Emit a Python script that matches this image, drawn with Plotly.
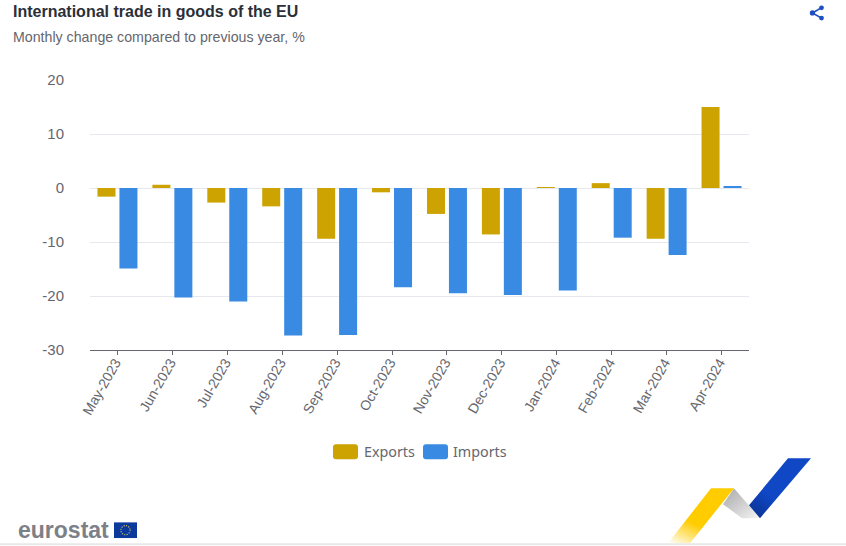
import base64
import plotly.graph_objects as go

months = ["May-2023", "Jun-2023", "Jul-2023", "Aug-2023", "Sep-2023", "Oct-2023",
          "Nov-2023", "Dec-2023", "Jan-2024", "Feb-2024", "Mar-2024", "Apr-2024"]
exports = [-1.6, 0.6, -2.7, -3.4, -9.4, -0.8, -4.8, -8.6, 0.1, 0.9, -9.4, 15.0]
imports = [-14.9, -20.3, -21.0, -27.3, -27.2, -18.4, -19.5, -19.8, -19.0, -9.2, -12.4, 0.3]
y_ticks = [-30, -20, -10, 0, 10, 20]
y_tick_labels = ["-30", "-20", "-10", "0", "10", "20"]

W, H = 846, 546
L, R, T, B = 90, 749, 80, 350.5
PW, PH = R - L, B - T
FONT = "Liberation Sans, Arial, sans-serif"
GOLD, BLUE = "#cca300", "#388ae2"


def svg_uri(svg):
    return "data:image/svg+xml;base64," + base64.b64encode(svg.encode()).decode()


ribbon = """<svg xmlns='http://www.w3.org/2000/svg' width='206' height='106' viewBox='0 0 206 106'>
<defs>
<linearGradient id='y' x1='0' y1='1' x2='0.45' y2='0.2'><stop offset='0' stop-color='#ffffff'/><stop offset='0.55' stop-color='#ffcc00'/></linearGradient>
<linearGradient id='g' x1='0' y1='0' x2='1' y2='1'><stop offset='0' stop-color='#a8a8aa'/><stop offset='1' stop-color='#f4f4f4'/></linearGradient>
<linearGradient id='b' x1='0' y1='1' x2='0.6' y2='0.2'><stop offset='0' stop-color='#0a2f8c'/><stop offset='0.5' stop-color='#0f47c4'/></linearGradient>
</defs>
<polygon points='28,104 71,49 94,49 50,104' fill='url(#y)'/>
<polygon points='83,65 94,49 120,79 102,79' fill='url(#g)'/>
<polygon points='109,66 148,19 171,19 120,79' fill='url(#b)'/>
</svg>"""

flag = """<svg xmlns='http://www.w3.org/2000/svg' width='23' height='16' viewBox='0 0 23 16'>
<rect width='23' height='16' fill='#0b3a9c'/>
<circle cx='11.5' cy='8' r='4.6' fill='none' stroke='#d9c86a' stroke-width='1.1' stroke-dasharray='1.1 1.3'/>
</svg>"""

share = """<svg xmlns='http://www.w3.org/2000/svg' width='18' height='18' viewBox='0 0 18 18'>
<path d='M13.5 3.5 L4.5 8.8 L13.5 14' fill='none' stroke='#1d4fc0' stroke-width='1.7'/>
<circle cx='13.5' cy='3.7' r='2.4' fill='#1d4fc0'/><circle cx='4.4' cy='8.8' r='2.6' fill='#1d4fc0'/><circle cx='13.5' cy='14' r='2.4' fill='#1d4fc0'/>
</svg>"""


def px(x):
    return (x - L) / PW


def py(y):
    return (B - y) / PH


def picture(svg, x, y, w, h):
    return dict(source=svg_uri(svg), xref="paper", yref="paper", x=px(x), y=py(y),
                sizex=w / PW, sizey=h / PH, xanchor="left", yanchor="top",
                sizing="stretch", layer="above")


def swatch(x0, color):
    x1, y0, y1, r = x0 + 25, 445, 460, 3
    return dict(type="path", xref="paper", yref="paper", fillcolor=color, line_width=0,
                path=(f"M{px(x0 + r)},{py(y0)} L{px(x1 - r)},{py(y0)} Q{px(x1)},{py(y0)} {px(x1)},{py(y0 + r)} "
                      f"L{px(x1)},{py(y1 - r)} Q{px(x1)},{py(y1)} {px(x1 - r)},{py(y1)} "
                      f"L{px(x0 + r)},{py(y1)} Q{px(x0)},{py(y1)} {px(x0)},{py(y1 - r)} "
                      f"L{px(x0)},{py(y0 + r)} Q{px(x0)},{py(y0)} {px(x0 + r)},{py(y0)} Z"))


def label(text, x, y, size, color, bold=False, family=FONT, xanchor="left"):
    return dict(text=f"<b>{text}</b>" if bold else text, xref="paper", yref="paper",
                x=px(x), y=py(y), xanchor=xanchor, yanchor="middle", showarrow=False,
                font=dict(size=size, color=color, family=family), align="left",
                borderpad=0, borderwidth=0)


fig = go.Figure()
fig.add_bar(name="Exports", x=months, y=exports, marker=dict(color=GOLD, line_width=0))
fig.add_bar(name="Imports", x=months, y=imports, marker=dict(color=BLUE, line_width=0))

fig.update_layout(
    width=W, height=H, barmode="group", bargap=0.2, bargroupgap=0.18,
    margin=dict(l=L, r=W - R, t=T, b=H - B, autoexpand=False),
    paper_bgcolor="white", plot_bgcolor="white", showlegend=False,
    font=dict(family=FONT, color="#66666e", size=14),
    xaxis=dict(type="category", tickangle=-60, ticks="outside", ticklen=4, tickwidth=1,
               tickcolor="#66666e", showline=True, linecolor="#66666e", linewidth=1,
               showgrid=False, tickfont=dict(size=14, color="#66666e"), fixedrange=True,
               ticklabelstandoff=-6, ticklabelshift=-2),
    yaxis=dict(range=[-30, 20], tickvals=y_ticks, ticktext=y_tick_labels, showgrid=True,
               gridcolor="#e6e8ee", gridwidth=1, zeroline=True, zerolinecolor="#e6e8ee",
               zerolinewidth=1, ticks="", showline=False, ticklabelstandoff=25,
               tickfont=dict(size=15, color="#66666e"), fixedrange=True),
    annotations=[
        label("International trade in goods of the EU", 13, 11, 16, "#2b2f38", bold=True),
        label("Monthly change compared to previous year, %", 13, 37, 14.2, "#66666e"),
        label("Exports", 364, 452, 14.3, "#66666e", family="Noto Sans, sans-serif"),
        label("Imports", 453, 452, 14.3, "#66666e", family="Noto Sans, sans-serif"),
        label("eurostat", 18, 531, 23, "#7d8087", bold=True),
    ],
    shapes=[
        swatch(333, GOLD),
        swatch(423, BLUE),
        dict(type="rect", xref="paper", yref="paper", x0=px(0), x1=px(W), y0=py(H), y1=py(544),
             fillcolor="#e9e9e9", line_width=0),
    ],
    images=[
        picture(ribbon, 640, 440, 206, 106),
        picture(flag, 114, 523, 23, 16),
        picture(share, 808, 4, 18, 18),
    ],
)

fig.write_html("out.html", config=dict(displayModeBar=False),
               post_script="document.body.style.margin='0';document.documentElement.style.overflow='hidden';")
